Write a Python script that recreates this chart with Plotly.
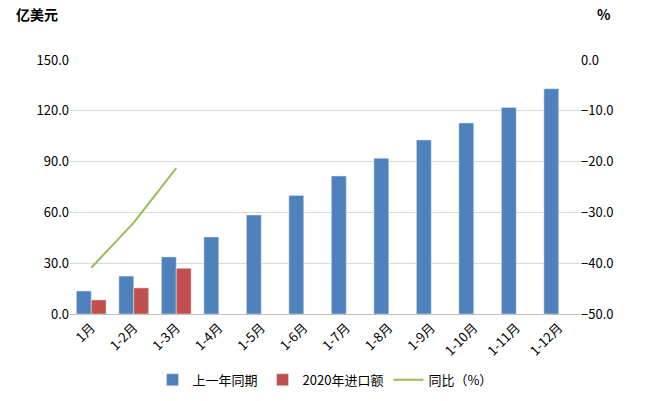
import plotly.graph_objects as go

categories = ["1月","1-2月","1-3月","1-4月","1-5月","1-6月","1-7月","1-8月","1-9月","1-10月","1-11月","1-12月"]
last_year = [13.6, 22.4, 33.7, 45.5, 58.5, 70.0, 81.5, 92.0, 102.8, 112.8, 122.0, 133.0]
import_2020 = [8.3, 15.4, 27.0]
yoy = [-40.9, -32.0, -21.3]

fig = go.Figure()
fig.add_bar(x=categories, y=last_year, name="上一年同期", marker_color="#4F81BD")
fig.add_bar(x=categories[:3], y=import_2020, name="2020年进口额", marker_color="#C0504D")
fig.add_scatter(x=categories[:3], y=yoy, name="同比（%）", mode="lines",
                line=dict(color="#9BBB59", width=2), yaxis="y2")

font = dict(family="Noto Sans CJK SC, Noto Sans", size=13, color="#000")
fig.update_layout(
    width=645, height=401, margin=dict(l=62, r=73, t=52, b=95, autoexpand=False),
    paper_bgcolor="white", plot_bgcolor="white", font=font,
    barmode="group", bargap=0.3, bargroupgap=0,
    xaxis=dict(tickangle=-45, showline=True, linecolor="#BFBFBF", ticks=""),
    yaxis=dict(range=[0, 150], dtick=30, tickformat=".1f", gridcolor="#D9D9D9",
               zeroline=False),
    yaxis2=dict(range=[-50, 0], dtick=10, tickformat=".1f", overlaying="y", side="right",
                showgrid=False, zeroline=False),
    legend=dict(orientation="h", x=0.5, xanchor="center", y=-0.2, yanchor="top",
                font=dict(size=13), itemwidth=30, tracegroupgap=0),
    annotations=[
        dict(text="<b>亿美元</b>", xref="paper", yref="paper", x=-0.11, y=1.18,
             xanchor="left", yanchor="middle", showarrow=False, font=dict(size=14)),
        dict(text="<b>%</b>", xref="paper", yref="paper", x=1.03, y=1.18,
             xanchor="left", yanchor="middle", showarrow=False, font=dict(size=14)),
    ],
)
fig.write_html("out.html")
